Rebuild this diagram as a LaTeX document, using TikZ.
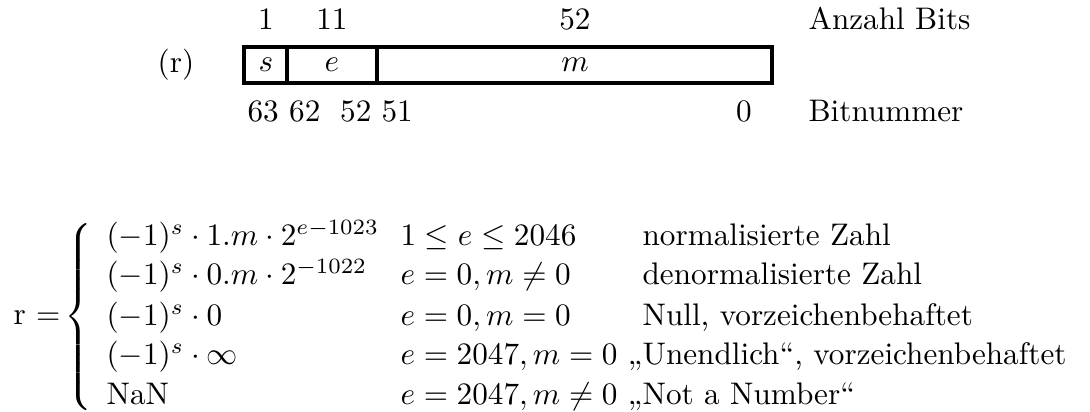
\documentclass[tikz,border=0pt]{standalone}
\usepackage{amsmath}
\begin{document}
\begin{tikzpicture}[x=0.3205pt,y=-0.3205pt,
  lab/.style={inner sep=0pt},
  cell/.style={inner sep=0pt, anchor=base west},
  fieldline/.style={line width=1pt}]
\useasboundingbox (0,0) rectangle (1090,412);
% top labels
\node[lab] (n1) at (266,19) {1};
\node[lab] (n11) at (332,19) {11};
\node[lab] (n52) at (575,19) {52};
\node[lab,anchor=west] (anz) at (808,19) {Anzahl Bits};
% register
\node[lab] (r) at (176,65) {(r)};
\coordinate (bl) at (244,47);
\coordinate (br) at (772,83);
\coordinate (d1t) at (287,47);
\coordinate (d1b) at (287,83);
\coordinate (d2t) at (377,47);
\coordinate (d2b) at (377,83);
\draw[fieldline] (bl) rectangle (br);
\draw[fieldline] (d1t) -- (d1b);
\draw[fieldline] (d2t) -- (d2b);
\node[lab] (s) at (266,65) {$s$};
\node[lab] (e) at (332,65) {$e$};
\node[lab] (m) at (575,65) {$m$};
% bottom labels
\node[lab,anchor=west] (b6362) at (247,111) {63 62};
\node[lab,anchor=east] (b52) at (372,111) {52};
\node[lab,anchor=west] (b51) at (381,111) {51};
\node[lab] (b0) at (744,111) {0};
\node[lab,anchor=west] (bitn) at (808,111) {Bitnummer};
% formula
\node[lab] (req) at (37,318) {r $=$};
\node[lab] (brace) at (80,317) {$\left\{\vcenter{\hrule height 61pt width 0pt}\right.$};
\node[cell] (a1) at (106,246) {$(-1)^s\cdot 1.m\cdot 2^{e-1023}$};
\node[cell] (a2) at (106,285) {$(-1)^s\cdot 0.m\cdot 2^{-1022}$};
\node[cell] (a3) at (106,326) {$(-1)^s\cdot 0$};
\node[cell] (a4) at (106,365) {$(-1)^s\cdot \infty$};
\node[cell] (a5) at (106,405) {NaN};
\node[cell] (c1) at (400,246) {$1\le e\le 2046$};
\node[cell] (c2) at (400,285) {$e=0, m\neq 0$};
\node[cell] (c3) at (400,326) {$e=0, m=0$};
\node[cell] (c4) at (400,365) {$e=2047, m=0$};
\node[cell] (c5) at (400,405) {$e=2047, m\neq 0$};
\node[cell] (t1) at (642,246) {normalisierte Zahl};
\node[cell] (t2) at (642,285) {denormalisierte Zahl};
\node[cell] (t3) at (642,326) {Null, vorzeichenbehaftet};
\node[cell] (t4) at (642,365) {\llap{„}Unendlich“, vorzeichenbehaftet};
\node[cell] (t5) at (642,405) {\llap{„}Not a Number“};
\end{tikzpicture}
\end{document}
